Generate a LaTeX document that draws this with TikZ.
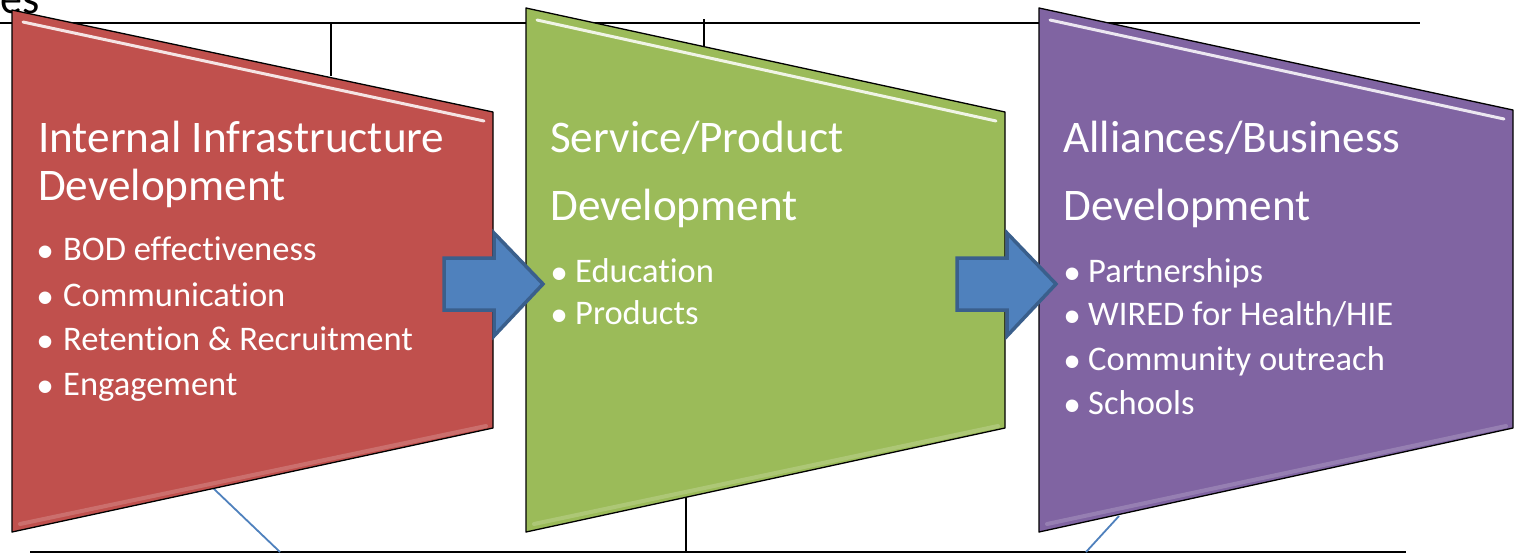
\documentclass[tikz,border=0pt]{standalone}
\usepackage{fontspec}
\setmainfont{Carlito}[Ligatures={NoCommon,NoContextual}]
\newfontfamily\bulfont{Liberation Sans}
\definecolor{cred}{HTML}{C0504D}
\definecolor{cgreen}{HTML}{9BBB59}
\definecolor{cpurple}{HTML}{8064A2}
\definecolor{cblue}{HTML}{4F81BD}
\definecolor{cblueedge}{HTML}{3A5F8C}
\newcommand{\bul}[1]{\makebox[#1][l]{\raisebox{-7pt}[0pt][0pt]{\fontsize{46}{46}\bulfont •}}}
\begin{document}
\begin{tikzpicture}[x=1pt,y=-1pt,
  rule/.style={draw=black,line width=2.6pt},
  tick/.style={draw=black,line width=1.4pt},
  conn/.style={draw=cblue,line width=1.8pt},
  panel/.style={draw=black,line width=1.3pt,line join=round},
  shine/.style={draw=white,line width=3pt,opacity=0.85,line cap=round},
  glow/.style={draw=white,line width=4pt,opacity=0.18,line cap=round},
  blockarrow/.style={fill=cblue,draw=cblueedge,line width=3.5pt,line join=miter},
  ttl/.style={inner sep=0pt,anchor=base west,text=white,font=\fontsize{45.2}{48}\selectfont},
  itm/.style={inner sep=0pt,anchor=base west,text=white,font=\fontsize{34.5}{40}\selectfont},
  frag/.style={inner sep=0pt,anchor=base east,text=black,font=\fontsize{44}{48}\selectfont}
]
\useasboundingbox (0,0) rectangle (1515,555);
\fill[white] (0,0) rectangle (1515,555);
\begin{scope}
\clip (0,0) rectangle (1515,555);
% fragment of cut text at top-left
\node[frag] (fragtext) at (40,13) {es};
% background rules
\coordinate (topL) at (0,23);
\coordinate (topR) at (1420,23);
\coordinate (botL) at (30,552);
\coordinate (botR) at (1406,552);
\draw[rule] (topL) -- (topR);
\draw[rule] (botL) -- (botR);
\coordinate (tk1a) at (331,23); \coordinate (tk1b) at (331,76);
\coordinate (tk2a) at (704,19); \coordinate (tk2b) at (704,48);
\coordinate (tk3a) at (686,496); \coordinate (tk3b) at (686,552);
\draw[tick] (tk1a) -- (tk1b);
\draw[tick] (tk2a) -- (tk2b);
\draw[tick] (tk3a) -- (tk3b);
\coordinate (cn1a) at (213,488); \coordinate (cn1b) at (280,552);
\coordinate (cn2a) at (1119,516); \coordinate (cn2b) at (1086,552);
\draw[conn] (cn1a) -- (cn1b);
\draw[conn] (cn2a) -- (cn2b);
% panels
\coordinate (r1) at (12,10); \coordinate (r2) at (493,112);
\coordinate (r3) at (493,428); \coordinate (r4) at (12,532);
\coordinate (g1) at (526,8); \coordinate (g2) at (1005,112);
\coordinate (g3) at (1005,428); \coordinate (g4) at (526,532);
\coordinate (p1) at (1039,8); \coordinate (p2) at (1513,110);
\coordinate (p3) at (1513,428); \coordinate (p4) at (1039,532);
\draw[panel,fill=cred] (r1) -- (r2) -- (r3) -- (r4) -- cycle;
\draw[panel,fill=cgreen] (g1) -- (g2) -- (g3) -- (g4) -- cycle;
\draw[panel,fill=cpurple] (p1) -- (p2) -- (p3) -- (p4) -- cycle;
% shine along the top edges
\draw[shine] (23,22) -- (484,121);
\draw[shine] (537,20) -- (996,121);
\draw[shine] (1050,20) -- (1504,119);
\draw[glow] (20,524) -- (486,426);
\draw[glow] (534,524) -- (998,426);
\draw[glow] (1047,524) -- (1506,426);
% block arrows
\draw[blockarrow] (444,258) -- (494,258) -- (494,233) -- (543,284) -- (494,336) -- (494,310) -- (444,310) -- cycle;
\draw[blockarrow] (957,258) -- (1007,258) -- (1007,233) -- (1056,284) -- (1007,336) -- (1007,310) -- (957,310) -- cycle;
\end{scope}
% texts: red panel
\node[ttl] (rt1) at (38,152) {Internal Infrastructure};
\node[ttl] (rt2) at (38,200) {Development};
\node[itm] (rb1) at (37,260) {\bul{26pt}BOD effectiveness};
\node[itm] (rb2) at (37,306) {\bul{26pt}Communication};
\node[itm] (rb3) at (37,350) {\bul{26pt}Retention \& Recruitment};
\node[itm] (rb4) at (37,395) {\bul{26pt}Engagement};
% green panel
\node[ttl] (gt1) at (550,152) {Service/Product};
\node[ttl] (gt2) at (550,220) {Development};
\node[itm] (gb1) at (551,282) {\bul{24pt}Education};
\node[itm] (gb2) at (551,324) {\bul{24pt}Products};
% purple panel
\node[ttl] (pt1) at (1063,152) {Alliances/Business};
\node[ttl] (pt2) at (1063,220) {Development};
\node[itm] (pb1) at (1064,282) {\bul{24pt}Partnerships};
\node[itm] (pb2) at (1064,325) {\bul{24pt}WIRED for Health/HIE};
\node[itm] (pb3) at (1064,370) {\bul{24pt}Community outreach};
\node[itm] (pb4) at (1064,414) {\bul{24pt}Schools};
\end{tikzpicture}
\end{document}
